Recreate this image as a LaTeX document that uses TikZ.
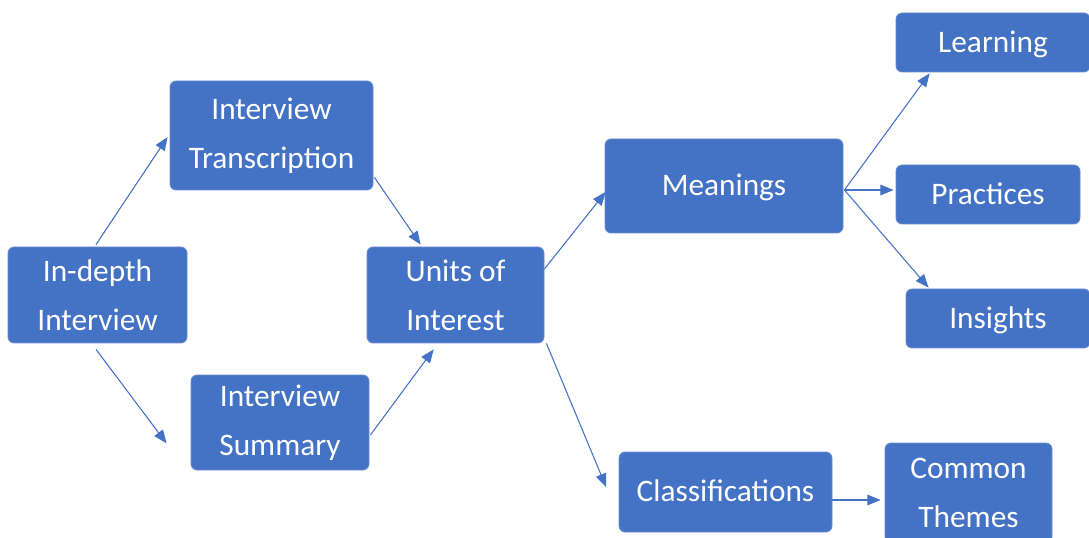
\documentclass[tikz,border=0pt]{standalone}
\usepackage{fontspec}
\setmainfont{Carlito}
\usetikzlibrary{arrows.meta,calc}
\definecolor{boxblue}{HTML}{4472C4}
\tikzset{
  box/.style 2 args={rectangle, rounded corners=4.5pt, fill=boxblue,
    draw=boxblue!80!white, line width=0.6pt, text=white, align=center,
    inner sep=0pt, minimum width=#1*0.75pt, minimum height=#2*0.75pt,
    font=\fontsize{23.5}{36.75}\selectfont},
  arr/.style={draw=boxblue, line width=0.8pt,
    -{Triangle[length=10pt,width=8pt]}}
}
\begin{document}
\begin{tikzpicture}[x=0.75pt,y=-0.75pt]
\useasboundingbox (0,0) rectangle (1089,538);

% boxes
\node[box={179}{96}]  (indepth) at (97.5,295)  {In-depth\\Interview};
\node[box={203}{109}] (trans)   at (271.5,135.5) {Interview\\Transcription};
\node[box={178}{95}]  (summ)    at (280,422.5) {Interview\\Summary};
\node[box={177}{96}]  (units)   at (455.5,295) {Units of\\Interest};
\node[box={238}{94}]  (mean)    at (724,186)   {\strut Meanings};
\node[box={194}{59}]  (learn)   at (993,42.5)  {\strut Learning};
\node[box={184}{59}]  (pract)   at (988,194.5) {\strut Practices};
\node[box={184}{59}]  (ins)     at (998,318.5) {\strut Insights};
\node[box={213}{80}]  (class)   at (725.5,492) {\strut Classifications};
\node[box={167}{100}] (common)  at (968.5,493) {Common\\Themes};

% fan-out point on the right of Meanings
\coordinate (fan) at ($(mean.east)+(1,4)$);

% connectors
\draw[arr] ($(indepth.north)+(-1.5,-2)$) -- ($(trans.west)+(-2,1.5)$);
\draw[arr] ($(indepth.south)+(-1.5,6)$) -- ($(summ.south west)+(-24,-27)$);
\draw[arr] ($(trans.south east)+(1,-13)$) -- ($(units.north west)+(54,-2)$);
\draw[arr] ($(summ.east)+(1,12.5)$) -- ($(units.south west)+(67,6)$);
\draw[arr] ($(units.east)+(0,-26)$) -- ($(mean.west)+(1,6)$);
\draw[arr] (fan) -- ($(learn.south west)+(34,1)$);
\draw[arr] (fan) -- ($(pract.west)+(-2,-4.5)$);
\draw[arr] (fan) -- ($(ins.north west)+(23,-1)$);
\draw[arr] ($(units.south east)+(2,0)$) -- ($(class.west)+(-12.5,-5)$);
\draw[arr] ($(class.east)+(0,8)$) -- ($(common.west)+(-4,7)$);
\end{tikzpicture}
\end{document}
